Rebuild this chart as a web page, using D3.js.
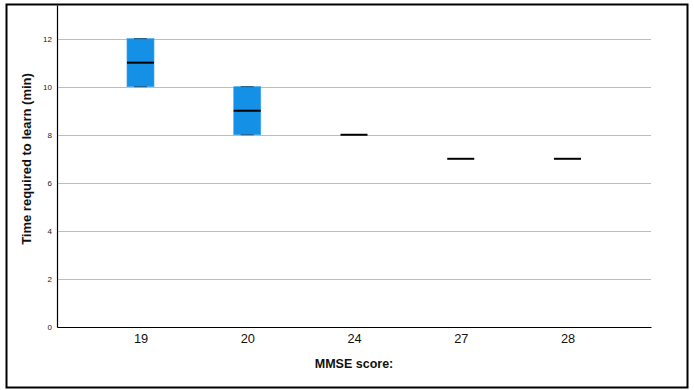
<!DOCTYPE html>
<html>
<head>
<meta charset="utf-8">
<script src="https://cdn.jsdelivr.net/npm/d3@7"></script>
<style>
  html, body { margin: 0; padding: 0; background: #fff; }
  svg { display: block; font-family: "Liberation Sans", Arial, sans-serif; }
</style>
</head>
<body>
<svg id="chart" width="694" height="390"></svg>
<script>
// MMSE score groups and the time each needed to learn (minutes)
const categories = ["19", "20", "24", "27", "28"];
const lowValues = [10, 8, 8, 7, 7];
const q1Values = [10, 8, 8, 7, 7];
const medianValues = [11, 9, 8, 7, 7];
const q3Values = [12, 10, 8, 7, 7];
const highValues = [12, 10, 8, 7, 7];
const yTicks = [0, 2, 4, 6, 8, 10, 12];

const boxes = categories.map((c, i) => ({
  cat: c, low: lowValues[i], q1: q1Values[i], med: medianValues[i],
  q3: q3Values[i], high: highValues[i]
}));

const svg = d3.select("#chart");
const margin = { left: 57, right: 43, top: 5, bottom: 63 };
const W = 694, H = 390;

// outer frame
svg.append("rect")
  .attr("x", 6.5).attr("y", 4.5)
  .attr("width", 681).attr("height", 383)
  .attr("fill", "none").attr("stroke", "#000").attr("stroke-width", 2);

const x = d3.scalePoint()
  .domain(categories)
  .range([margin.left, W - margin.right])
  .padding(0.782);

const y = d3.scaleLinear()
  .domain([0, 13.4])
  .range([H - margin.bottom, margin.top]);

// horizontal grid lines
svg.append("g")
  .selectAll("line")
  .data(yTicks.filter(t => t > 0))
  .join("line")
  .attr("x1", margin.left).attr("x2", W - margin.right)
  .attr("y1", d => Math.round(y(d)) + 0.5).attr("y2", d => Math.round(y(d)) + 0.5)
  .attr("stroke", "#bdbdbd").attr("stroke-width", 1.2);

// y axis
const yAxis = svg.append("g")
  .attr("transform", `translate(${margin.left},0)`)
  .call(d3.axisLeft(y).tickValues(yTicks).tickSize(0).tickPadding(5));
yAxis.select(".domain").attr("stroke", "#000").attr("stroke-width", 1.2);
yAxis.selectAll("text").attr("font-size", 8).attr("fill", "#222")
  .attr("font-family", "Liberation Sans, Arial, sans-serif");

// x axis
const xAxis = svg.append("g")
  .attr("transform", `translate(0,${H - margin.bottom})`)
  .call(d3.axisBottom(x).tickSize(0).tickPadding(7));
xAxis.select(".domain").attr("stroke", "#000").attr("stroke-width", 1.2);
xAxis.selectAll("text").attr("font-size", 12.8).attr("fill", "#111")
  .attr("font-family", "Liberation Sans, Arial, sans-serif");

const boxW = 27;

// boxes (interquartile range)
svg.append("g")
  .selectAll("rect")
  .data(boxes.filter(d => d.q3 > d.q1))
  .join("rect")
  .attr("x", d => x(d.cat) - boxW / 2)
  .attr("y", d => y(d.q3))
  .attr("width", boxW)
  .attr("height", d => y(d.q1) - y(d.q3))
  .attr("fill", "#1490e6")
  .attr("stroke", "#3aa2ee").attr("stroke-width", 0.6);

// whisker caps
const caps = [];
boxes.forEach(d => {
  if (d.high > d.low) {
    caps.push({ cat: d.cat, v: d.low });
    caps.push({ cat: d.cat, v: d.high });
  }
});
svg.append("g")
  .selectAll("line")
  .data(caps)
  .join("line")
  .attr("x1", d => x(d.cat) - 6.5).attr("x2", d => x(d.cat) + 6.5)
  .attr("y1", d => y(d.v)).attr("y2", d => y(d.v))
  .attr("stroke", "#1f5675").attr("stroke-width", 1);

// medians
svg.append("g")
  .selectAll("line")
  .data(boxes)
  .join("line")
  .attr("x1", d => x(d.cat) - boxW / 2).attr("x2", d => x(d.cat) + boxW / 2)
  .attr("y1", d => y(d.med)).attr("y2", d => y(d.med))
  .attr("stroke", "#000").attr("stroke-width", 2);

// axis titles
svg.append("text")
  .attr("transform", "translate(31,159) rotate(-90)")
  .attr("text-anchor", "middle")
  .attr("font-size", 13).attr("font-weight", "bold").attr("fill", "#111")
  .text("Time required to learn (min)");

svg.append("text")
  .attr("x", (margin.left + W - margin.right) / 2)
  .attr("y", 368)
  .attr("text-anchor", "middle")
  .attr("font-size", 12.5).attr("font-weight", "bold").attr("fill", "#111")
  .text("MMSE score:");
</script>
</body>
</html>
